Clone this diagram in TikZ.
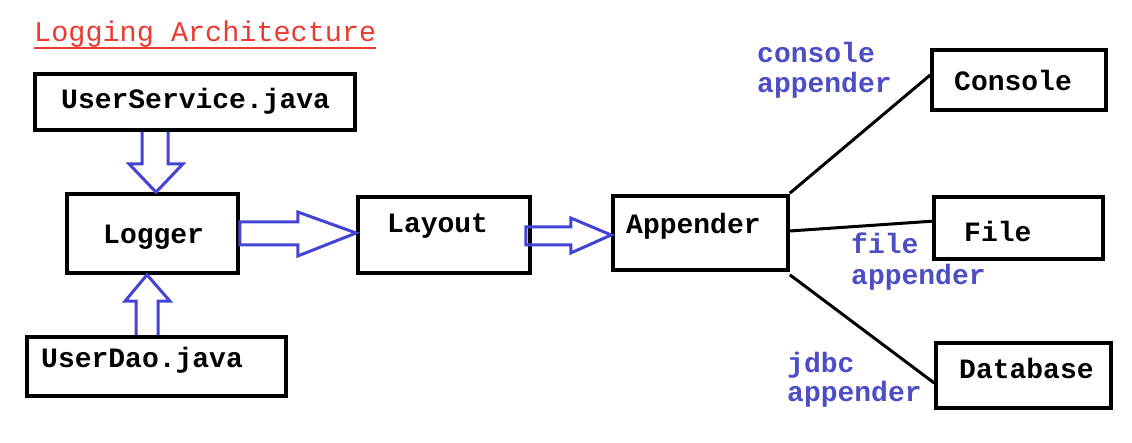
\documentclass[tikz,border=0pt]{standalone}
\usepackage{fontspec}
\newfontfamily\mono{Liberation Mono}
\usetikzlibrary{calc}
\definecolor{arrowblue}{RGB}{68,68,212}
\definecolor{labelblue}{RGB}{78,78,196}
\definecolor{titlered}{RGB}{236,58,48}
\tikzset{
  box/.style={draw=black, line width=3.6pt, rectangle, inner sep=0pt},
  boxtext/.style={anchor=base west, inner sep=0pt, font=\mono\bfseries\fontsize{28}{30}\selectfont},
  bluetext/.style={anchor=base west, inner sep=0pt, text=labelblue, font=\mono\bfseries\fontsize{28}{30}\selectfont},
  blockarrow/.style={draw=arrowblue, line width=3pt, line join=miter},
  wire/.style={draw=black, line width=3pt},
}
\begin{document}
\begin{tikzpicture}[x=1pt,y=-1pt]
\fill[white] (0,0) rectangle (1132,443);
\useasboundingbox (0,0) rectangle (1132,443);

% title
\node[anchor=base west, inner sep=0pt, text=titlered, font=\mono\fontsize{28.5}{30}\selectfont] (title) at (34,42) {Logging Architecture};
\draw[titlered, line width=1.6pt] ([yshift=-6]title.base west) -- ([yshift=-6]title.base east);

% boxes
\node[box, minimum width=320pt, minimum height=56pt] (us) at (195,102) {};
\node[box, minimum width=171pt, minimum height=79pt] (lg) at (152.5,233.5) {};
\node[box, minimum width=259pt, minimum height=59pt] (ud) at (156.5,366.5) {};
\node[box, minimum width=172pt, minimum height=76pt] (ly) at (444,235) {};
\node[box, minimum width=175pt, minimum height=74pt] (ap) at (700.5,233) {};
\node[box, minimum width=174pt, minimum height=60pt] (co) at (1019,80) {};
\node[box, minimum width=169pt, minimum height=62pt] (fi) at (1018.5,228) {};
\node[box, minimum width=175pt, minimum height=65pt] (db) at (1023.5,375.5) {};

% box texts
\node[boxtext] (tus) at (61,109) {UserService.java};
\node[boxtext] (tlg) at (103,244) {Logger};
\node[boxtext] (tud) at (41,367) {UserDao.java};
\node[boxtext] (tly) at (387,233) {Layout};
\node[boxtext] (tap) at (626,234) {Appender};
\node[boxtext] (tco) at (954,91) {Console};
\node[boxtext] (tfi) at (964,242) {File};
\node[boxtext] (tdb) at (959,378) {Database};

% appender labels
\node[bluetext] (lco1) at (757,63) {console};
\node[bluetext] (lco2) at (757,93) {appender};
\node[bluetext] (lfi1) at (851,254) {file};
\node[bluetext] (lfi2) at (851,285) {appender};
\node[bluetext] (ldb1) at (787,373) {jdbc};
\node[bluetext] (ldb2) at (787,401) {appender};

% block arrows
\coordinate (a1s) at ([xshift=-39]us.south);
\coordinate (a1t) at ([xshift=3.5]lg.north);
\draw[blockarrow] ($(a1s)+(-14,0)$) -- ($(a1s)+(-14,32)$) -- ($(a1s)+(-27,32)$) -- (a1t)
  -- ($(a1s)+(27,32)$) -- ($(a1s)+(12,32)$) -- ($(a1s)+(12,0)$);

\coordinate (a2s) at ([xshift=-9.5]ud.north);
\coordinate (a2t) at ([xshift=-5.5]lg.south);
\draw[blockarrow] ($(a2s)+(-11,0)$) -- ($(a2s)+(-11,-34)$) -- ($(a2s)+(-22,-34)$) -- (a2t)
  -- ($(a2s)+(23,-34)$) -- ($(a2s)+(11,-34)$) -- ($(a2s)+(11,0)$);

\coordinate (a3s) at (lg.east);
\coordinate (a3t) at ([yshift=2]ly.west);
\draw[blockarrow] ($(a3s)+(0,-11.5)$) -- ($(a3s)+(58,-11.5)$) -- ($(a3s)+(58,-21.5)$) -- (a3t)
  -- ($(a3s)+(58,22.5)$) -- ($(a3s)+(58,11.5)$) -- ($(a3s)+(0,11.5)$) -- cycle;

\coordinate (a4s) at ([xshift=-6,yshift=-1]ly.east);
\coordinate (a4t) at ([yshift=-2]ap.west);
\draw[blockarrow] ($(a4s)+(0,-9)$) -- ($(a4s)+(45,-9)$) -- ($(a4s)+(45,-18)$) -- (a4t)
  -- ($(a4s)+(45,17)$) -- ($(a4s)+(45,9)$) -- ($(a4s)+(0,9)$) -- cycle;

% appender wires
\draw[wire] ([yshift=1]ap.north east) -- ([yshift=5]co.west);
\draw[wire] ([yshift=2]ap.east) -- ([xshift=3,yshift=7]fi.west);
\draw[wire] ([yshift=-3]ap.south east) -- ([yshift=-7.5]db.west);
\end{tikzpicture}
\end{document}
